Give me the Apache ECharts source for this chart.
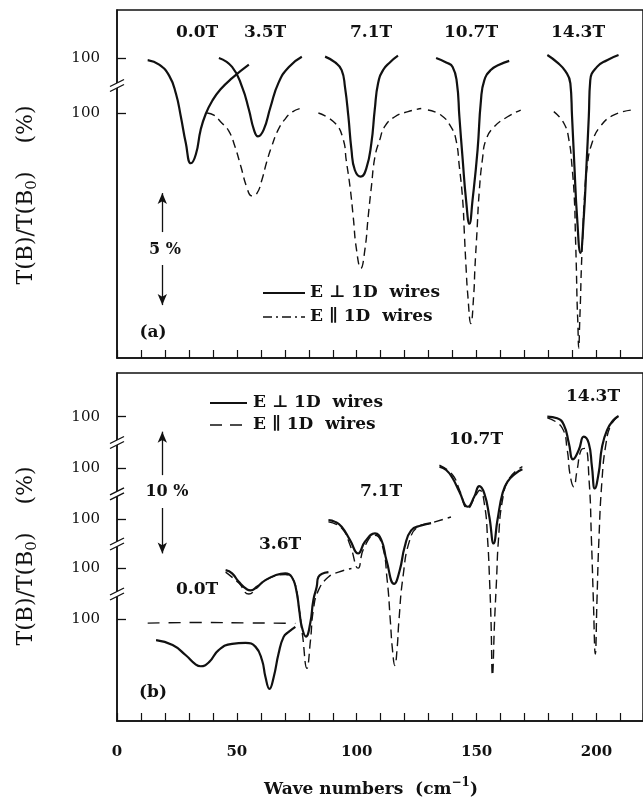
<!DOCTYPE html>
<html><head><meta charset="utf-8">
<script src="https://cdn.jsdelivr.net/npm/echarts@6/dist/echarts.min.js"></script>
<style>html,body{margin:0;padding:0;background:#fff}#c{width:643px;height:811px}</style>
</head><body><div id="c"></div>
<script>
// ---------------- DATA (wavenumber cm^-1, T(B)/T(B0) %) ----------------
const xTickLabels = [0, 50, 100, 150, 200];
const yTickText = '100';
const legendNames = ['E \u22A5 1D  wires', 'E \u2225 1D  wires'];
const fieldsA = ['0.0T', '3.5T', '7.1T', '10.7T', '14.3T'];
const fieldsB = ['0.0T', '3.6T', '7.1T', '10.7T', '14.3T'];

// Panel (a): E perpendicular (solid)
const a_perp_0_0T = [[12.8,99.9],[17.6,99.7],[21.8,99.2],[24.6,98.4],[26.6,97.4],[28.7,96.2],[30.8,95.3],[32.9,95.7],[34.9,96.8],[37.0,97.5],[39.8,98.1],[43.2,98.6],[48.0,99.1],[55.0,99.7]];
const a_perp_3_5T = [[42.5,100.0],[48.0,99.6],[52.2,98.7],[55.0,97.7],[57.1,96.8],[58.8,96.5],[61.2,96.8],[64.0,97.8],[67.4,98.9],[71.7,99.6],[77.1,100.05]];
const a_perp_7_1T = [[86.8,100.06],[91.0,99.8],[93.7,99.46],[95.1,98.7],[96.5,97.4],[97.8,95.9],[99.2,95.0],[101.7,94.7],[104.0,95.07],[106.1,96.2],[107.5,97.68],[108.9,98.87],[111.0,99.46],[113.8,99.8],[117.2,100.1]];
const a_perp_10_7T = [[133.1,100.0],[137.3,99.8],[140.0,99.6],[141.8,98.87],[142.8,97.4],[144.2,95.45],[145.6,93.66],[147.0,92.6],[148.3,93.66],[150.4,95.9],[151.8,98.1],[153.2,99.0],[155.9,99.46],[159.4,99.7],[163.6,99.87]];
const a_perp_14_3T = [[179.5,100.13],[183.6,99.8],[187.1,99.4],[189.1,98.87],[189.8,97.4],[190.8,95.15],[191.9,92.9],[193.3,91.3],[194.7,92.9],[195.8,95.15],[196.8,97.4],[197.4,99.0],[200.2,99.6],[204.4,99.9],[209.2,100.13]];
// Panel (a): E parallel (dashed)
const a_par_3_5T = [[37.6,100.0],[40.4,99.9],[43.3,99.6],[46.6,99.2],[49.2,98.5],[51.7,97.6],[54.1,96.7],[56.2,96.3],[58.3,96.4],[60.4,97.0],[62.4,97.8],[64.5,98.5],[67.0,99.2],[69.9,99.7],[73.2,100.05],[76.5,100.2]];
const a_par_7_1T = [[84.0,100.0],[91.0,99.54],[94.4,98.8],[95.6,97.9],[97.2,96.7],[98.5,95.4],[99.9,93.9],[101.7,93.07],[103.4,93.9],[104.8,95.4],[106.1,96.7],[107.6,98.05],[109.6,98.8],[111.7,99.4],[115.9,99.83],[121.4,100.06],[126.9,100.2]];
const a_par_10_7T = [[129.7,100.13],[135.2,99.9],[139.3,99.38],[141.4,98.8],[142.8,97.6],[144.2,96.1],[144.9,94.6],[145.6,93.1],[146.3,91.9],[147.6,90.6],[148.8,91.9],[149.3,93.1],[150.1,94.6],[151.1,96.5],[152.5,98.0],[153.9,98.8],[157.3,99.38],[162.9,99.83],[168.4,100.13]];
const a_par_14_3T = [[182.2,100.06],[186.4,99.54],[188.5,98.8],[189.8,97.6],[190.8,96.1],[191.2,94.6],[191.6,93.1],[191.9,91.6],[192.2,90.7],[192.6,89.5],[193.0,90.7],[193.3,91.6],[193.7,93.1],[194.3,94.6],[194.9,96.1],[196.1,97.6],[198.1,98.65],[201.6,99.4],[207.1,99.9],[214.7,100.13]];

// Panel (b): E perpendicular (solid)
const b_perp_0_0T = [[16.3,98.3],[23.2,97.9],[28.7,97.06],[32.9,96.3],[34.9,96.16],[38.4,96.5],[42.5,97.5],[48.0,98.0],[53.6,98.08],[57.8,97.75],[60.5,96.65],[61.9,95.3],[63.6,94.3],[65.4,95.3],[67.4,97.2],[69.5,98.57],[71.6,98.98],[74.4,99.4]];
const b_perp_3_6T = [[45.3,99.86],[48.0,99.6],[50.8,98.9],[54.3,98.27],[55.7,98.2],[58.4,98.5],[61.9,99.04],[66.1,99.45],[70.2,99.6],[72.9,99.3],[74.8,98.2],[76.0,96.6],[77.1,95.2],[78.8,94.4],[80.6,95.5],[81.9,97.4],[83.3,98.5],[84.0,99.3],[88.2,99.7]];
const b_perp_7_1T = [[88.2,99.94],[91.0,99.8],[93.7,99.4],[97.2,98.3],[100.6,97.2],[103.4,98.16],[107.6,98.85],[110.3,98.3],[112.4,96.65],[115.6,94.7],[117.9,95.8],[120.0,97.75],[122.7,99.1],[126.9,99.5],[131.0,99.7]];
const b_perp_10_7T = [[134.5,100.13],[137.3,99.86],[140.0,99.18],[142.8,98.08],[146.3,96.84],[149.0,97.66],[151.1,98.54],[153.2,97.94],[155.3,96.02],[157.1,93.83],[158.7,95.75],[160.8,97.94],[162.9,98.9],[166.3,99.59],[169.1,99.92]];
const b_perp_14_3T = [[179.5,100.0],[183.6,99.87],[186.4,99.32],[188.5,97.8],[190.2,96.5],[192.6,97.26],[194.7,98.36],[196.8,97.8],[198.1,95.9],[199.3,94.1],[200.9,95.35],[202.3,97.5],[204.4,98.9],[207.1,99.73],[209.2,100.06]];
// Panel (b): E parallel (dashed)
const b_par_0_0T = [[12.8,99.7],[35.0,99.75],[55.0,99.72],[74.4,99.68]];
const b_par_3_6T = [[45.3,99.7],[50.8,98.8],[55.0,97.9],[58.4,98.4],[61.9,99.04],[70.2,99.5],[73.7,99.0],[75.7,97.0],[77.4,94.5],[79.2,91.8],[80.7,94.1],[81.9,96.6],[84.0,98.2],[88.2,99.3],[92.4,99.7],[97.8,100.0]];
const b_par_7_1T = [[88.2,99.8],[93.7,99.3],[97.2,97.9],[100.6,96.0],[102.9,97.6],[107.6,98.7],[110.6,97.9],[112.7,95.0],[114.0,91.7],[114.9,89.3],[115.9,88.0],[116.8,89.3],[117.6,91.7],[119.3,95.3],[122.1,98.3],[125.6,99.4],[131.0,99.7],[139.3,100.2]];
const b_par_10_7T = [[134.5,100.27],[140.0,99.45],[142.9,98.2],[146.3,96.7],[149.2,97.6],[151.3,98.2],[153.3,97.0],[154.6,94.1],[155.4,90.8],[156.0,87.5],[156.6,83.0],[157.5,87.5],[158.3,90.8],[159.1,94.1],[160.8,97.4],[163.7,99.2],[169.1,100.13]];
const b_par_14_3T = [[179.5,99.9],[185.7,99.07],[187.8,97.26],[189.0,95.2],[190.5,94.24],[191.9,95.6],[193.6,97.26],[195.2,97.4],[196.9,94.8],[197.9,89.85],[198.7,84.9],[199.5,80.5],[200.2,84.9],[201.0,89.85],[202.3,94.8],[203.9,97.7],[206.0,99.3],[209.2,100.06]];

// vertical stacking offsets (in %) so each trace's 100 % sits on its own "100" tick
const a_offsets = { perp: 0, par: 2.455 };
const b_offsets = [16.66, 12.47, 8.44, 4.24, 0]; // 0.0T, 3.6T, 7.1T, 10.7T, 14.3T

// ---------------- LAYOUT / STYLE ----------------
const FONT = 'DejaVu Serif';
const INK = '#111';
const X_MAX = 219.4;
const A_RANGE = [86.61, 102.14];
const B_RANGE = [75.0, 103.59];
const DASH_A = [8, 5];
const DASH_A_LEGEND = [9, 4, 2, 4];
const DASH_B = [9, 5];
const scaleA = { x: 18.9, top: 93.97, gapTop: 92.23, gapBot: 90.76, bot: 88.97 };
const scaleB = { x: 18.9, top: 98.77, gapTop: 95.2, gapBot: 92.5, bot: 88.77 };

const chart = echarts.init(document.getElementById('c'), null, { renderer: 'canvas', width: 643, height: 811 });

function mk(name, data, off, idx, dashType, extra) {
  return Object.assign({
    type: 'line', name: name, xAxisIndex: idx, yAxisIndex: idx,
    data: data.map(p => [p[0], +(p[1] - off).toFixed(3)]),
    symbol: 'none', showSymbol: false, smooth: 0.5,
    lineStyle: { color: INK, width: dashType ? 1.4 : 2.2, type: dashType || 'solid' },
    itemStyle: { color: INK }, silent: true, animation: false, z: dashType ? 2 : 3
  }, extra || {});
}
function scaleBar(s) {
  return {
    silent: true, animation: false, label: { show: false },
    symbolSize: [7, 11],
    lineStyle: { color: INK, width: 1.3, type: 'solid' },
    data: [
      [{ coord: [s.x, s.top], symbol: 'arrow' }, { coord: [s.x, s.gapTop], symbol: 'none' }],
      [{ coord: [s.x, s.gapBot], symbol: 'none' }, { coord: [s.x, s.bot], symbol: 'arrow' }]
    ]
  };
}

const NA = legendNames, NB = legendNames.map(n => n + ' ');
const series = [
  mk(NA[0], a_perp_0_0T, a_offsets.perp, 0, null, { markLine: scaleBar(scaleA) }),
  mk(NA[0], a_perp_3_5T, a_offsets.perp, 0, null),
  mk(NA[0], a_perp_7_1T, a_offsets.perp, 0, null),
  mk(NA[0], a_perp_10_7T, a_offsets.perp, 0, null),
  mk(NA[0], a_perp_14_3T, a_offsets.perp, 0, null),
  mk(NA[1], a_par_3_5T, a_offsets.par, 0, DASH_A),
  mk(NA[1], a_par_7_1T, a_offsets.par, 0, DASH_A),
  mk(NA[1], a_par_10_7T, a_offsets.par, 0, DASH_A),
  mk(NA[1], a_par_14_3T, a_offsets.par, 0, DASH_A)
];
const bPerp = [b_perp_0_0T, b_perp_3_6T, b_perp_7_1T, b_perp_10_7T, b_perp_14_3T];
const bPar = [b_par_0_0T, b_par_3_6T, b_par_7_1T, b_par_10_7T, b_par_14_3T];
bPerp.forEach((d, i) => series.push(mk(NB[0], d, b_offsets[i], 1, null, i === 0 ? { markLine: scaleBar(scaleB) } : {})));
bPar.forEach((d, i) => series.push(mk(NB[1], d, b_offsets[i], 1, i === 0 ? [12, 9] : DASH_B)));

const aTicks = [100 - a_offsets.par, 100 - a_offsets.perp];
const bTicks = b_offsets.map(o => +(100 - o).toFixed(3));

function xAxis(idx, labels) {
  return {
    type: 'value', gridIndex: idx, min: 0, max: X_MAX, interval: 10,
    axisLine: { show: true, lineStyle: { color: INK, width: 1.5 } },
    axisTick: { show: true, inside: true, length: 8, lineStyle: { color: INK, width: 1.2 } },
    axisLabel: labels ? { show: true, customValues: xTickLabels, margin: 24, fontFamily: FONT, fontWeight: 'bold', fontSize: 15, color: INK } : { show: false },
    splitLine: { show: false }
  };
}
function yAxis(idx, range, ticks) {
  return {
    type: 'value', gridIndex: idx, min: range[0], max: range[1],
    axisLine: { show: true, lineStyle: { color: INK, width: 1.5 } },
    axisTick: { show: true, inside: true, length: 9, customValues: ticks, lineStyle: { color: INK, width: 1.3 } },
    axisLabel: { show: true, customValues: ticks, formatter: () => yTickText, margin: 17, fontFamily: FONT, fontSize: 15, color: INK },
    splitLine: { show: false }
  };
}

chart.setOption({
  backgroundColor: '#fff',
  animation: false,
  grid: [
    { left: 117, top: 10, width: 528, height: 348, show: true, borderColor: INK, borderWidth: 1.5 },
    { left: 117, top: 373, width: 528, height: 348, show: true, borderColor: INK, borderWidth: 1.5 }
  ],
  xAxis: [xAxis(0, false), xAxis(1, true)],
  yAxis: [yAxis(0, A_RANGE, aTicks), yAxis(1, B_RANGE, bTicks)],
  series: series
});

// ---------------- annotations ----------------
const g = [];
function txt(t, x, y, size, align) {
  g.push({ type: 'text', x: x, y: y, z: 100, silent: true,
    style: { text: t, fontFamily: FONT, fontSize: size, fontWeight: 'bold', fill: INK, align: align || 'center', verticalAlign: 'middle', textAlign: align || 'center', textVerticalAlign: 'middle' } });
}
function sample(x1, x2, y, dash, w) {
  g.push({ type: 'line', z: 100, silent: true, shape: { x1: x1, y1: y, x2: x2, y2: y }, style: { stroke: INK, lineWidth: w, lineDash: dash || null } });
}
const labelPosA = [[197, 33], [265, 33], [371, 33], [471, 33], [578, 33]];
const labelPosB = [[197, 590], [280, 545], [381, 492], [476, 440], [593, 397]];
fieldsA.forEach((f, i) => txt(f, labelPosA[i][0], labelPosA[i][1], 17));
fieldsB.forEach((f, i) => txt(f, labelPosB[i][0], labelPosB[i][1], 17));
txt('(a)', 153, 333, 17);
txt('(b)', 153, 693, 17);
txt('5 %', 165, 250, 16);
txt('10 %', 167, 492, 16);

// legends
sample(263, 305, 293, null, 2.2); txt(legendNames[0], 310, 293, 17, 'left');
sample(263, 305, 317, DASH_A_LEGEND, 1.4); txt(legendNames[1], 310, 317, 17, 'left');
sample(210, 247, 403, null, 2.2); txt(legendNames[0], 253, 403, 17, 'left');
sample(210, 247, 425, [12, 8], 1.4); txt(legendNames[1], 253, 425, 17, 'left');

function yTitle(cy) {
  g.push({ type: 'text', x: 26, y: cy, rotation: Math.PI / 2, z: 100, silent: true,
    style: { text: '{t|T(B)/T(B}{s|0}{t|)    (%)}', align: 'center', verticalAlign: 'middle', textAlign: 'center', textVerticalAlign: 'middle',
      rich: { t: { fontFamily: FONT, fontSize: 22, fill: INK, color: INK, lineHeight: 28, verticalAlign: 'middle' },
              s: { fontFamily: FONT, fontSize: 15, fill: INK, color: INK, lineHeight: 12, verticalAlign: 'bottom' } } } });
}
yTitle(195);
yTitle(556);
g.push({ type: 'text', x: 371, y: 790, z: 100, silent: true,
  style: { text: '{t|Wave numbers  (cm}{p|\u22121}{t|)}', align: 'center', verticalAlign: 'middle', textAlign: 'center', textVerticalAlign: 'middle',
    rich: { t: { fontFamily: FONT, fontSize: 17, fontWeight: 'bold', fill: INK, color: INK, lineHeight: 26, verticalAlign: 'middle' },
            p: { fontFamily: FONT, fontSize: 12, fontWeight: 'bold', fill: INK, color: INK, lineHeight: 12, verticalAlign: 'top' } } } });

// axis-break marks, placed through the axis scales (midway between "100" ticks)
function brk(idx, v) {
  const p = chart.convertToPixel({ xAxisIndex: idx, yAxisIndex: idx }, [0, v]);
  const x = p[0], y = p[1];
  g.push({ type: 'polygon', z: 101, silent: true, shape: { points: [[x - 7, y + 1], [x + 7, y - 6], [x + 7, y - 1], [x - 7, y + 6]] }, style: { fill: '#fff', stroke: null } });
  g.push({ type: 'line', z: 102, silent: true, shape: { x1: x - 7, y1: y + 1, x2: x + 7, y2: y - 6 }, style: { stroke: INK, lineWidth: 1.3 } });
  g.push({ type: 'line', z: 102, silent: true, shape: { x1: x - 7, y1: y + 6, x2: x + 7, y2: y - 1 }, style: { stroke: INK, lineWidth: 1.3 } });
}
brk(0, (aTicks[0] + aTicks[1]) / 2);
for (let i = 0; i < bTicks.length - 1; i++) brk(1, (bTicks[i] + bTicks[i + 1]) / 2);

chart.setOption({ graphic: g });
</script></body></html>
